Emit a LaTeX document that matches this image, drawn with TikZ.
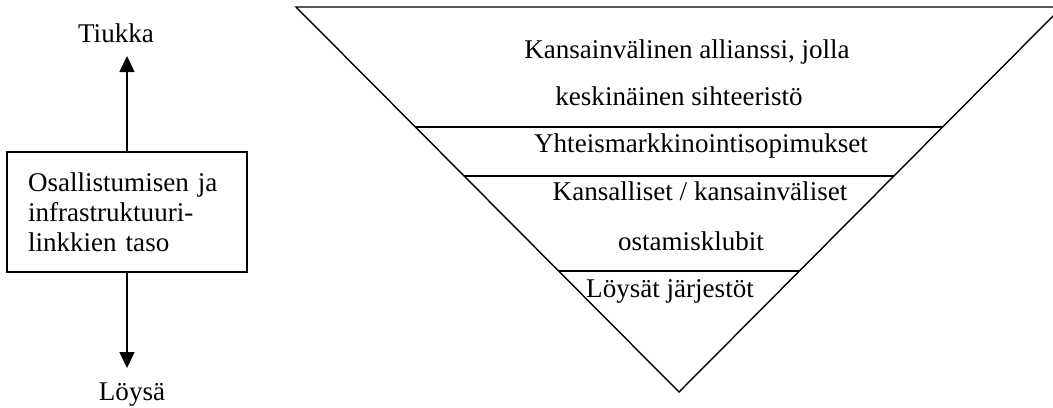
\documentclass[tikz,border=0pt]{standalone}
\usepackage{fontspec}
\setmainfont{Liberation Serif}
\usetikzlibrary{arrows.meta,positioning,calc}

\begin{document}
\begin{tikzpicture}[x=0.02cm,y=-0.02cm,
    every node/.style={font=\fontsize{15.4}{17.2}\selectfont},
    lbl/.style={anchor=base, inner sep=0pt},
    ar/.style={-{Triangle[length=0.32cm,width=0.3cm]}, line width=0.8pt}]
            \useasboundingbox (0,0) rectangle (1053,407);
            \clip (0,0) rectangle (1053,407);
            % vasen puoli
            \node [draw, line width=0.8pt, minimum width=4.8cm, minimum height=2.4cm, text width=3.96cm, inner xsep=0.42cm, align=left] (taso) at (127,212) {Osallistumisen ja\\infrastruktuuri-\\linkkien taso};
            \coordinate (ylos) at (127,56);
            \coordinate (alas) at (127,368);
            \node [lbl] (tiukka) at (116,42) {Tiukka};
            \node [lbl] (loysa) at (132,400) {Löysä};
            \draw [ar] (taso.north) -- (ylos);
            \draw [ar] (taso.south) -- (alas);
            % kolmio
            \coordinate (v) at (296,7);
            \coordinate (o) at (1062,7);
            \coordinate (k) at (679,392);
            \draw [line width=0.8pt, line join=miter] (v) -- (o) -- (k) -- cycle;
            \foreach \t/\n in {0.3117/a, 0.439/b, 0.6857/c} {
                \coordinate (v\n) at ($(v)!\t!(k)$);
                \coordinate (o\n) at ($(o)!\t!(k)$);
                \draw [line width=0.8pt] (v\n) -- (o\n);
            }
            \node [lbl] (t1) at (687,58) {Kansainvälinen allianssi, jolla};
            \node [lbl] (t2) at (679,105) {keskinäinen sihteeristö};
            \node [lbl] (t3) at (701,152) {Yhteismarkkinointisopimukset};
            \node [lbl] (t4) at (700,200) {Kansalliset / kansainväliset};
            \node [lbl] (t5) at (691,250) {ostamisklubit};
            \node [lbl] (t6) at (670,297) {Löysät järjestöt};
\end{tikzpicture}
\end{document}
